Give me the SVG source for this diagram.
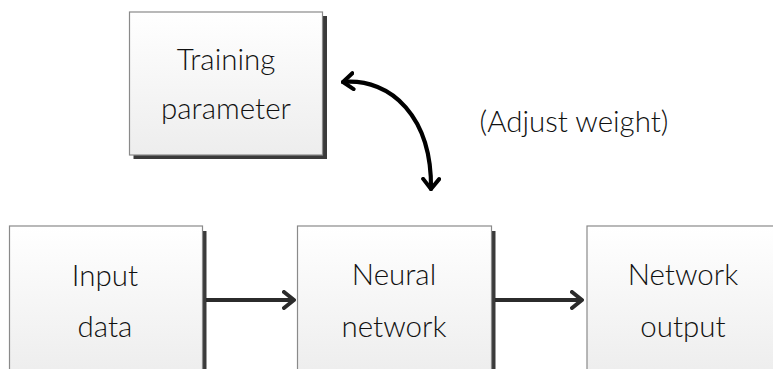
<svg xmlns="http://www.w3.org/2000/svg" width="773" height="369" viewBox="0 0 773 369">
<defs>
<linearGradient id="boxFill" x1="0" y1="0" x2="0" y2="1">
<stop offset="0" stop-color="#ffffff"/>
<stop offset="1" stop-color="#ededed"/>
</linearGradient>
<marker id="arrowDark" viewBox="0 0 14 20" refX="12" refY="10" markerWidth="14" markerHeight="20" markerUnits="userSpaceOnUse" orient="auto-start-reverse">
<path d="M2,2 L12,10 L2,18" fill="none" stroke="#2b2b2b" stroke-width="4" stroke-linecap="round" stroke-linejoin="round"/>
</marker>
<marker id="arrowBlack" viewBox="0 0 14 20" refX="12" refY="10" markerWidth="14" markerHeight="20" markerUnits="userSpaceOnUse" orient="auto-start-reverse">
<path d="M2,2 L12,10 L2,18" fill="none" stroke="#000" stroke-width="4" stroke-linecap="round" stroke-linejoin="round"/>
</marker>
</defs>
<style>
.shadow{fill:#3a3a3a}
.box{fill:url(#boxFill);stroke:#8a8a8a;stroke-width:1.2}
.lbl{font-family:"Lato","Open Sans","Noto Sans",sans-serif;font-weight:300;font-size:29.5px;fill:#111111;text-anchor:middle}
.conn{fill:none;stroke:#2b2b2b;stroke-width:4}
.curve{fill:none;stroke:#000;stroke-width:4.2;stroke-linecap:round}
</style>
<rect width="773" height="369" fill="#ffffff"/>

<g id="training">
<rect class="shadow" x="133.5" y="16" width="193.5" height="143"/>
<rect class="box" x="129.5" y="12" width="193" height="143"/>
<text class="lbl" x="226" y="70">Training</text>
<text class="lbl" x="226" y="119">parameter</text>
</g>

<g id="input">
<rect class="shadow" x="202" y="231" width="4.5" height="140"/>
<rect class="box" x="9.5" y="226" width="193" height="150"/>
<text class="lbl" x="105" y="286">Input</text>
<text class="lbl" x="105" y="337">data</text>
</g>

<g id="neural">
<rect class="shadow" x="491" y="231" width="4.5" height="140"/>
<rect class="box" x="297.5" y="226" width="194" height="150"/>
<text class="lbl" x="394" y="285">Neural</text>
<text class="lbl" x="394" y="337">network</text>
</g>

<g id="output">
<rect class="box" x="587" y="226" width="200" height="150"/>
<text class="lbl" x="683" y="285">Network</text>
<text class="lbl" x="683" y="337">output</text>
</g>

<g id="note">
<text class="lbl" x="574" y="132">(Adjust weight)</text>
</g>

<g id="connectors">
<line class="conn" x1="206" y1="300" x2="294" y2="300" marker-end="url(#arrowDark)"/>
<line class="conn" x1="495" y1="300" x2="582" y2="300" marker-end="url(#arrowDark)"/>
<path class="curve" d="M343,82 C392,78 432,118 431,189" marker-start="url(#arrowBlack)" marker-end="url(#arrowBlack)"/>
</g>
</svg>
